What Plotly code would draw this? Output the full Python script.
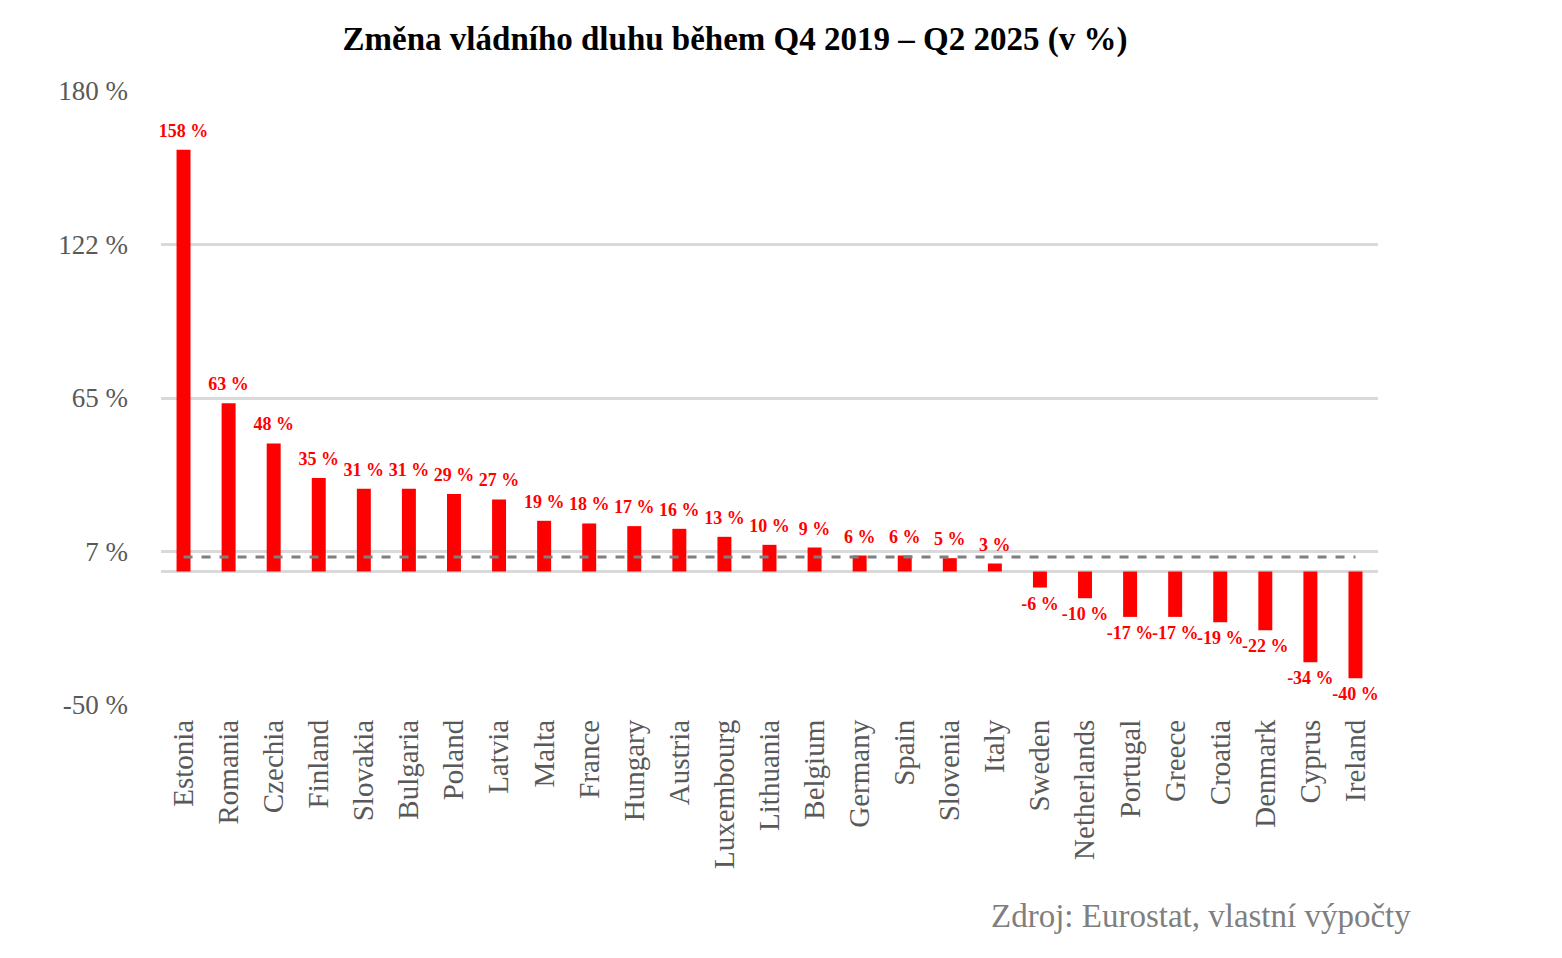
import plotly.graph_objects as go

countries = ["Estonia", "Romania", "Czechia", "Finland", "Slovakia", "Bulgaria", "Poland",
             "Latvia", "Malta", "France", "Hungary", "Austria", "Luxembourg", "Lithuania",
             "Belgium", "Germany", "Spain", "Slovenia", "Italy", "Sweden", "Netherlands",
             "Portugal", "Greece", "Croatia", "Denmark", "Cyprus", "Ireland"]
change_pct = [158, 63, 48, 35, 31, 31, 29, 27, 19, 18, 17, 16, 13, 10, 9, 6, 6, 5, 3,
              -6, -10, -17, -17, -19, -22, -34, -40]
reference_level = 5.4
y_tickvals = [-50, 7.5, 65, 122.5, 180]
y_ticktext = ["-50 %", "7 %", "65 %", "122 %", "180 %"]

labels = [f"{v} %" for v in change_pct]
label_pos = ["top center" if v >= 0 else "bottom center" for v in change_pct]

W, H = 1546, 942

fig = go.Figure()
fig.add_trace(go.Bar(
    x=countries, y=change_pct, width=0.31,
    marker=dict(color="#ff0000", line=dict(width=0)),
    hoverinfo="x+y",
))
fig.add_trace(go.Scatter(
    x=countries, y=[reference_level] * len(countries), mode="lines",
    line=dict(color="#7f7f7f", width=3, dash="dash"), hoverinfo="skip",
))
fig.add_trace(go.Scatter(
    x=countries, y=change_pct, mode="markers+text",
    marker=dict(size=12, color="rgba(0,0,0,0)"),
    text=labels, textposition=label_pos,
    textfont=dict(family="Liberation Serif", size=18, color="#ff0000", weight="bold"),
    cliponaxis=False, hoverinfo="skip",
))

fig.update_layout(
    width=W, height=H,
    margin=dict(l=153, r=176, t=83, b=245),
    plot_bgcolor="white", paper_bgcolor="white",
    showlegend=False,
    title=dict(
        text="<b>Změna vládního dluhu během Q4 2019 – Q2 2025 (v %)</b>",
        x=727 / W, xanchor="center", y=1 - 30 / H, yanchor="middle",
        font=dict(family="Liberation Serif", size=33, color="#000000"),
    ),
    annotations=[dict(
        text="Zdroj: Eurostat, vlastní výpočty",
        xref="paper", yref="paper", x=(1413 - 161) / 1217, y=(705 - 916) / 614,
        xanchor="right", yanchor="middle", showarrow=False,
        font=dict(family="Liberation Serif", size=33, color="#7f7f7f"),
    )],
)
fig.update_xaxes(
    range=[-0.5, len(countries) - 0.5],
    tickangle=-90, showgrid=False, showline=False, zeroline=False, ticks="",
    tickfont=dict(family="Liberation Serif", size=29, color="#595959"),
    ticklabelstandoff=8,
)
fig.update_yaxes(
    range=[-50, 180], tickvals=y_tickvals, ticktext=y_ticktext,
    showgrid=True, gridcolor="#d9d9d9", gridwidth=2.5,
    zeroline=True, zerolinecolor="#d9d9d9", zerolinewidth=2.5,
    showline=False, ticks="",
    tickfont=dict(family="Liberation Serif", size=27, color="#595959"),
    ticklabelstandoff=32,
)

fig.write_html("out.html")
